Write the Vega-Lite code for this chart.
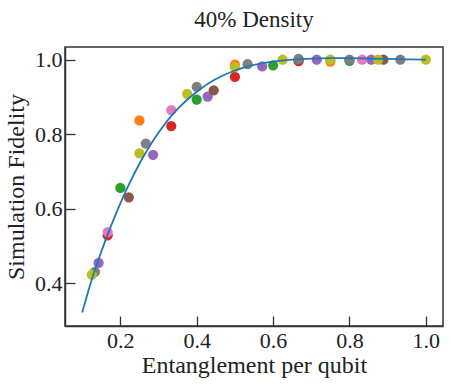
{
  "$schema": "https://vega.github.io/schema/vega-lite/v6.json",
  "width": 378,
  "height": 279,
  "autosize": {"type": "none"},
  "padding": {"left": 65, "top": 47, "right": 8, "bottom": 60},
  "background": "white",
  "config": {
    "font": "Liberation Serif",
    "view": {"stroke": "#333333", "strokeWidth": 1.5},
    "axis": {
      "grid": false,
      "domainColor": "#333333",
      "domainWidth": 1.5,
      "tickColor": "#333333",
      "tickWidth": 1.3,
      "tickSize": -10,
      "labelFont": "Liberation Serif",
      "labelFontSize": 22,
      "labelColor": "#222222",
      "titleFont": "Liberation Serif",
      "titleFontSize": 24,
      "titleFontWeight": "normal",
      "titleColor": "#222222"
    },
    "title": {"font": "Liberation Serif", "fontSize": 23, "fontWeight": "normal", "color": "#222222"}
  },
  "title": {"text": "40% Density", "offset": 15},
  "datasets": {
    "pts": [
      {"s": "n4", "x": 0.25, "y": 0.837},
      {"s": "n4", "x": 0.5, "y": 0.987},
      {"s": "n4", "x": 0.75, "y": 0.995},
      {"s": "n5", "x": 0.2, "y": 0.656},
      {"s": "n5", "x": 0.4, "y": 0.893},
      {"s": "n5", "x": 0.6, "y": 0.985},
      {"s": "n5", "x": 0.8, "y": 0.997},
      {"s": "n6", "x": 0.1667, "y": 0.529},
      {"s": "n6", "x": 0.3333, "y": 0.822},
      {"s": "n6", "x": 0.5, "y": 0.954},
      {"s": "n6", "x": 0.6667, "y": 0.996},
      {"s": "n7", "x": 0.1429, "y": 0.455},
      {"s": "n7", "x": 0.2857, "y": 0.745},
      {"s": "n7", "x": 0.4286, "y": 0.901},
      {"s": "n7", "x": 0.5714, "y": 0.982},
      {"s": "n7", "x": 0.7143, "y": 1.0},
      {"s": "n7", "x": 0.8571, "y": 1.0},
      {"s": "n9", "x": 0.2222, "y": 0.631},
      {"s": "n9", "x": 0.4444, "y": 0.918},
      {"s": "n9", "x": 0.6667, "y": 1.0},
      {"s": "n9", "x": 0.8889, "y": 1.0},
      {"s": "n12", "x": 0.1667, "y": 0.538},
      {"s": "n12", "x": 0.3333, "y": 0.865},
      {"s": "n12", "x": 0.8333, "y": 1.0},
      {"s": "n15", "x": 0.1333, "y": 0.431},
      {"s": "n15", "x": 0.2667, "y": 0.775},
      {"s": "n15", "x": 0.4, "y": 0.927},
      {"s": "n15", "x": 0.5333, "y": 0.988},
      {"s": "n15", "x": 0.6667, "y": 1.002},
      {"s": "n15", "x": 0.8, "y": 1.0},
      {"s": "n15", "x": 0.9333, "y": 1.0},
      {"s": "n8", "x": 0.125, "y": 0.424},
      {"s": "n8", "x": 0.25, "y": 0.749},
      {"s": "n8", "x": 0.375, "y": 0.908},
      {"s": "n8", "x": 0.5, "y": 0.98},
      {"s": "n8", "x": 0.625, "y": 1.0},
      {"s": "n8", "x": 0.75, "y": 1.0},
      {"s": "n8", "x": 0.875, "y": 1.0},
      {"s": "n8", "x": 1.0, "y": 1.0}
    ],
    "fit": [
      {"x": 0.1, "y": 0.322},
      {"x": 0.125, "y": 0.41},
      {"x": 0.15, "y": 0.485},
      {"x": 0.175, "y": 0.553},
      {"x": 0.2, "y": 0.615},
      {"x": 0.225, "y": 0.671},
      {"x": 0.25, "y": 0.721},
      {"x": 0.3, "y": 0.805},
      {"x": 0.35, "y": 0.868},
      {"x": 0.4, "y": 0.914},
      {"x": 0.45, "y": 0.948},
      {"x": 0.5, "y": 0.971},
      {"x": 0.55, "y": 0.986},
      {"x": 0.6, "y": 0.995},
      {"x": 0.65, "y": 1.0},
      {"x": 0.7, "y": 1.003},
      {"x": 0.75, "y": 1.004},
      {"x": 0.8, "y": 1.004},
      {"x": 0.85, "y": 1.003},
      {"x": 0.9, "y": 1.002},
      {"x": 0.95, "y": 1.001},
      {"x": 1.0, "y": 1.0}
    ]
  },
  "layer": [
    {
      "data": {"name": "pts"},
      "mark": {"type": "circle", "size": 105, "opacity": 1},
      "encoding": {
        "x": {
          "field": "x", "type": "quantitative",
          "scale": {"domain": [0.055, 1.045], "nice": false, "zero": false},
          "axis": {"values": [0.2, 0.4, 0.6, 0.8, 1.0], "format": ".1f", "title": "Entanglement per qubit", "labelPadding": 14, "titlePadding": 2}
        },
        "y": {
          "field": "y", "type": "quantitative",
          "scale": {"domain": [0.286, 1.034], "nice": false, "zero": false},
          "axis": {"values": [0.4, 0.6, 0.8, 1.0], "format": ".1f", "title": "Simulation Fidelity", "labelPadding": 13, "titlePadding": 6}
        },
        "color": {
          "field": "s", "type": "nominal", "legend": null,
          "scale": {
            "domain": ["n4", "n5", "n6", "n7", "n9", "n12", "n15", "n8"],
            "range": ["#ff7f0e", "#2ca02c", "#d62728", "#9467bd", "#8c564b", "#e377c2", "#7f7f7f", "#bcbd22"]
          }
        }
      }
    },
    {
      "data": {"name": "fit"},
      "mark": {"type": "line", "color": "#1f77b4", "strokeWidth": 1.8, "interpolate": "monotone"},
      "encoding": {
        "x": {"field": "x", "type": "quantitative"},
        "y": {"field": "y", "type": "quantitative"}
      }
    }
  ]
}
